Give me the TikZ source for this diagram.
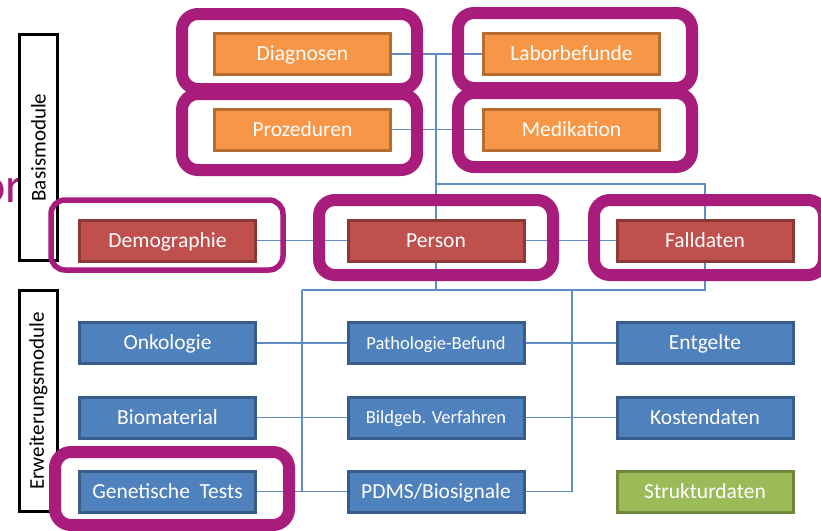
\documentclass[tikz,border=0pt]{standalone}
\usepackage{fontspec}
\setmainfont{Carlito}
\usetikzlibrary{positioning}

\definecolor{framepurple}{RGB}{168,28,124}
\definecolor{linkblue}{RGB}{96,140,196}
\definecolor{orfill}{HTML}{F79646}\definecolor{ordraw}{HTML}{B66D31}
\definecolor{rdfill}{HTML}{C0504D}\definecolor{rddraw}{HTML}{8C3836}
\definecolor{blfill}{HTML}{4F81BD}\definecolor{bldraw}{HTML}{385D8A}
\definecolor{grfill}{HTML}{9BBB59}\definecolor{grdraw}{HTML}{71893F}

\tikzset{
  module/.style={rectangle, line width=3pt, minimum width=176pt, minimum height=41pt,
    inner sep=0pt, text=white, text height=13.5pt, text depth=0pt,
    font=\fontsize{21.5}{25}\selectfont},
  basis/.style={module, fill=orfill, draw=ordraw},
  core/.style={module, fill=rdfill, draw=rddraw},
  ext/.style={module, fill=blfill, draw=bldraw},
  extsmall/.style={ext, text height=12pt, font=\fontsize{18.5}{22}\selectfont},
  infra/.style={module, fill=grfill, draw=grdraw},
  sidebox/.style={rectangle, draw=black, line width=3pt, fill=white, rotate=90,
    minimum height=38pt, inner sep=0pt, font=\fontsize{21}{25}\selectfont},
  link/.style={draw=linkblue, line width=1.1pt},
  ring/.style={draw=framepurple, line width=12pt, rounded corners=16pt},
  thinring/.style={draw=framepurple, line width=5.5pt, rounded corners=14pt},
}

\begin{document}
\begin{tikzpicture}[x=1pt,y=-1pt]
\useasboundingbox (0,0) rectangle (821,530);
\begin{scope}
\clip (0,0) rectangle (821,530);

% trailing word partly hidden behind the side label
\node[anchor=base east, inner sep=0pt, text=framepurple,
      font=\fontsize{50}{54}\selectfont] (orword) at (23,202) {or};

% side labels
\node[sidebox, minimum width=226pt] (basislabel) at (38.5,147.5) {Basismodule};
\node[sidebox, minimum width=221pt] (extlabel) at (38.5,401) {Erweiterungsmodule};

% modules
\node[basis] (diag) at (302.5,54) {Diagnosen};
\node[basis] (proz) at (302.5,129.5) {Prozeduren};
\node[basis] (labor) at (571.5,54) {Laborbefunde};
\node[basis] (medi) at (571.5,129.5) {Medikation};

\node[core] (demo) at (167.5,240.5) {Demographie};
\node[core] (person) at (436,240.5) {Person};
\node[core] (fall) at (705,240.5) {Falldaten};

\node[ext] (onko) at (167.5,343) {Onkologie};
\node[extsmall] (patho) at (436,343) {Pathologie-Befund};
\node[ext] (entg) at (705,343) {Entgelte};
\node[ext] (bioma) at (167.5,417.5) {Biomaterial};
\node[extsmall] (bildg) at (436,417.5) {Bildgeb. Verfahren};
\node[ext] (kost) at (705,417.5) {Kostendaten};
\node[ext] (genet) at (167.5,491.5) {Genetische\hspace{0.45em}Tests};
\node[ext] (pdms) at (436,491.5) {PDMS/Biosignale};
\node[infra] (struk) at (705,491.5) {Strukturdaten};

% connectors
\coordinate (busTop) at (436,184);
\coordinate (busL) at (302,290);
\coordinate (busR) at (572,290);

\draw[link] (diag.east) -- (labor.west);
\draw[link] (proz.east) -- (medi.west);
\draw[link] (person.north |- diag.east) -- (person.north);
\draw[link] (busTop) -- (fall.north |- busTop) -- (fall.north);
\draw[link] (demo.east) -- (person.west);
\draw[link] (person.east) -- (fall.west);

\draw[link] (person.south) -- (person.south |- busL);
\draw[link] (busL) -- (fall.south |- busL) -- (fall.south);
\draw[link] (busL) -- (busL |- pdms.west);
\draw[link] (busR) -- (busR |- pdms.east) -- (pdms.east);
\draw[link] (onko.east) -- (patho.west);
\draw[link] (bioma.east) -- (bildg.west);
\draw[link] (genet.east) -- (pdms.west);
\draw[link] (patho.east) -- (entg.west);
\draw[link] (bildg.east) -- (kost.west);

% highlight frames
\draw[ring] (182,14) rectangle (417,89);
\draw[ring] (182,94) rectangle (417,170);
\draw[ring] (458,13) rectangle (692,88);
\draw[ring] (458,93) rectangle (692,167);
\draw[thinring] (51,200) rectangle (283,270);
\draw[ring] (319,200) rectangle (553,275);
\draw[ring] (594,200) rectangle (824,275);
\draw[ring] (55,452) rectangle (289,525);
\end{scope}
\end{tikzpicture}
\end{document}
